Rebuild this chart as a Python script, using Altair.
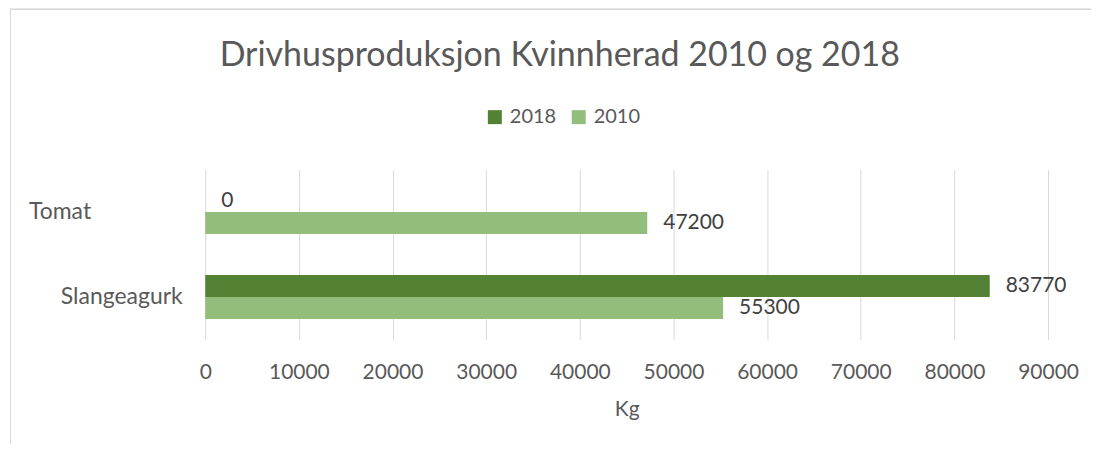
import altair as alt
import pandas as pd

categories = ["Tomat", "Slangeagurk"]
years = ["2018", "2010"]
values_2018 = [0, 83770]
values_2010 = [47200, 55300]
x_ticks = [0, 10000, 20000, 30000, 40000, 50000, 60000, 70000, 80000, 90000]

rows = []
for i, c in enumerate(categories):
    rows.append({"Kategori": c, "Aar": years[0], "Kg": values_2018[i]})
    rows.append({"Kategori": c, "Aar": years[1], "Kg": values_2010[i]})
df = pd.DataFrame(rows)

FONT = "Lato"
TEXT = "#595959"
GRID = "#d9d9d9"
DARK = "#548235"
LIGHT = "#92BD7A"

y_enc = alt.Y(
    "Kategori:N",
    sort=categories,
    scale=alt.Scale(paddingInner=0.482, paddingOuter=0.241),
    axis=alt.Axis(
        title=None, ticks=False, domain=False,
        labelFontSize=23, labelColor=TEXT, labelFont=FONT,
        labelAlign={"condition": {"test": "datum.value === 'Tomat'", "value": "left"}, "value": "right"},
        labelPadding={"condition": {"test": "datum.value === 'Tomat'", "value": 177}, "value": 23},
    ),
)
yoff_enc = alt.YOffset("Aar:N", sort=years, scale=alt.Scale(paddingInner=0, paddingOuter=0))
x_enc = alt.X(
    "Kg:Q",
    scale=alt.Scale(domain=[0, 90000], nice=False),
    axis=alt.Axis(
        values=x_ticks, format="d", grid=True, gridColor=GRID, gridWidth=1,
        ticks=False, domain=False, labelFlush=False,
        labelFontSize=21, labelColor=TEXT, labelFont=FONT, labelPadding=22,
        title="Kg", titleFontSize=21, titleFont=FONT, titleFontWeight="normal",
        titleColor=TEXT, titlePadding=16,
    ),
)
color_enc = alt.Color(
    "Aar:N",
    scale=alt.Scale(domain=years, range=[DARK, LIGHT]),
    legend=alt.Legend(
        title=None, orient="none", legendX=280, legendY=-62.5, direction="horizontal",
        symbolType="square", symbolSize=196, symbolStrokeWidth=0,
        labelFontSize=20, labelFont=FONT, labelColor=TEXT, labelOffset=5,
        columnPadding=12, padding=0,
    ),
)

base = alt.Chart(df)
bars = base.mark_bar().encode(y=y_enc, yOffset=yoff_enc, x=x_enc, color=color_enc)
labels = base.mark_text(align="left", baseline="middle", dx=16, font=FONT, fontSize=21, color="#404040").encode(
    y=alt.Y("Kategori:N", sort=categories), yOffset=alt.YOffset("Aar:N", sort=years),
    x="Kg:Q", text=alt.Text("Kg:Q", format="d"),
)
border_v = base.mark_rule(color=GRID, strokeWidth=1).encode(
    x=alt.value(-195), y=alt.value(-160.5), y2=alt.value(274.5)
)
border_h = base.mark_rule(color=GRID, strokeWidth=1).encode(
    x=alt.value(-195.5), x2=alt.value(887), y=alt.value(-160.5)
)

chart = alt.layer(border_v, border_h, bars, labels).properties(
    width=844, height=170,
    padding={"left": 1.5, "top": 0.5, "right": 0, "bottom": 0},
    title=alt.Title(
        "Drivhusproduksjon Kvinnherad 2010 og 2018",
        fontSize=34, font=FONT, fontWeight="normal", color=TEXT,
        anchor="middle", dx=-67, dy=35.5, offset=-56, baseline="alphabetic",
    ),
).configure_view(strokeWidth=0)

chart.save("out.html", embed_options={"renderer": "svg", "actions": False})
